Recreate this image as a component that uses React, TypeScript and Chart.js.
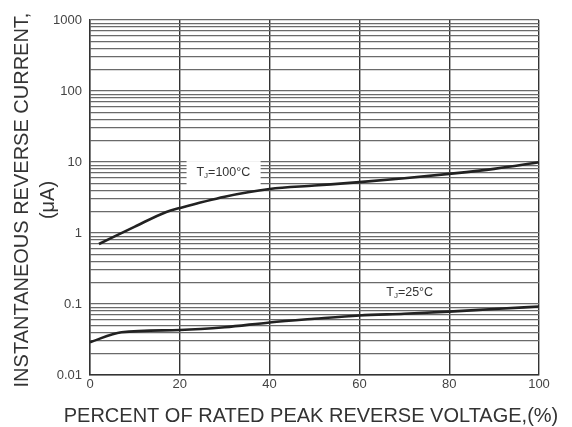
import React, { useEffect, useRef } from 'react';
import { Chart, registerables } from 'chart.js';

Chart.register(...registerables);

// ---- data ----
const hotX = [2, 10, 17, 20, 30, 40, 50, 60, 70, 80, 90, 100];
const hotY = [0.7, 1.23, 1.98, 2.25, 3.25, 4.17, 4.66, 5.2, 5.9, 6.8, 8.0, 9.9];
const coldX = [0, 7, 20, 30, 40, 50, 60, 70, 80, 90, 100];
const coldY = [0.029, 0.04, 0.043, 0.047, 0.055, 0.062, 0.069, 0.073, 0.078, 0.085, 0.092];
const xTicks = [0, 20, 40, 60, 80, 100];
const yDecades = [0.01, 0.1, 1, 10, 100, 1000];
const yTickLabels = ['0.01', '0.1', '1', '10', '100', '1000'];
const minorSteps = [1, 2, 3, 4, 5, 6, 7, 8, 9];
const xTitle = 'PERCENT OF RATED PEAK REVERSE VOLTAGE,(%)';
const yTitle = ['INSTANTANEOUS REVERSE CURRENT,', '(\u03BCA)'];
const hotLabel = { main: 'T', sub: 'J', rest: '=100\u00B0C', x: 29.7, y: 7.0 };
const coldLabel = { main: 'T', sub: 'J', rest: '=25\u00B0C', x: 71.2, y: 0.143 };
const hotBox = { x0: 21.5, x1: 38, y0: 10.3, y1: 4.72 };

const FONT = '"Liberation Sans", Arial, Helvetica, sans-serif';

function drawSubLabel(ctx: CanvasRenderingContext2D, cx: number, cy: number, lab: any) {
  ctx.save();
  ctx.fillStyle = '#333';
  ctx.textBaseline = 'middle';
  ctx.textAlign = 'left';
  const big = `12.5px ${FONT}`;
  const small = `8px ${FONT}`;
  ctx.font = big;
  const w1 = ctx.measureText(lab.main).width;
  const w3 = ctx.measureText(lab.rest).width;
  ctx.font = small;
  const w2 = ctx.measureText(lab.sub).width;
  const total = w1 + w2 + w3;
  let x = cx - total / 2;
  ctx.font = big;
  ctx.fillText(lab.main, x, cy);
  x += w1;
  ctx.font = small;
  ctx.fillText(lab.sub, x, cy + 3);
  x += w2;
  ctx.font = big;
  ctx.fillText(lab.rest, x, cy);
  ctx.restore();
}

const decorPlugin = {
  id: 'decor',
  beforeDatasetsDraw(chart: any) {
    const ctx = chart.ctx as CanvasRenderingContext2D;
    const xs = chart.scales.x;
    const ys = chart.scales.y;
    const bx0 = xs.getPixelForValue(hotBox.x0);
    const bx1 = xs.getPixelForValue(hotBox.x1);
    const by0 = ys.getPixelForValue(hotBox.y0);
    const by1 = ys.getPixelForValue(hotBox.y1);
    ctx.save();
    ctx.fillStyle = '#fff';
    ctx.fillRect(bx0, by0, bx1 - bx0, by1 - by0);
    ctx.restore();
    drawSubLabel(ctx, xs.getPixelForValue(hotLabel.x), ys.getPixelForValue(hotLabel.y), hotLabel);
    drawSubLabel(ctx, xs.getPixelForValue(coldLabel.x), ys.getPixelForValue(coldLabel.y), coldLabel);
  },
  afterDraw(chart: any) {
    const ctx = chart.ctx as CanvasRenderingContext2D;
    ctx.save();
    ctx.fillStyle = '#333';
    ctx.font = `20px ${FONT}`;
    ctx.textAlign = 'center';
    ctx.textBaseline = 'middle';
    ctx.fillText(xTitle, 311, 416);
    ctx.translate(22, 200);
    ctx.rotate(-Math.PI / 2);
    ctx.fillText(yTitle[0], 0, 0);
    ctx.fillText(yTitle[1], 0, 26);
    ctx.restore();
  },
};

function isDecade(v: number) {
  return yDecades.findIndex((d) => Math.abs(v - d) / d < 1e-6);
}

export default function App() {
  const ref = useRef<HTMLCanvasElement | null>(null);
  useEffect(() => {
    document.body.style.margin = '0';
    const canvas = ref.current!;
    const yTickVals: number[] = [];
    for (let i = 0; i < yDecades.length - 1; i++) {
      for (const m of minorSteps) yTickVals.push(yDecades[i] * m);
    }
    yTickVals.push(yDecades[yDecades.length - 1]);

    const chart = new Chart(canvas, {
      type: 'line',
      data: {
        datasets: [
          {
            data: hotX.map((x, i) => ({ x, y: hotY[i] })),
            borderColor: '#222',
            borderWidth: 2.6,
            pointRadius: 0,
            cubicInterpolationMode: 'monotone',
          },
          {
            data: coldX.map((x, i) => ({ x, y: coldY[i] })),
            borderColor: '#222',
            borderWidth: 2.6,
            pointRadius: 0,
            cubicInterpolationMode: 'monotone',
          },
        ],
      },
      options: {
        responsive: false,
        animation: false,
        devicePixelRatio: 1,
        layout: { padding: { top: 20, right: 33, left: 0, bottom: 0 } },
        plugins: { legend: { display: false }, tooltip: { enabled: false }, title: { display: false } },
        scales: {
          x: {
            type: 'linear',
            min: 0,
            max: 100,
            afterBuildTicks: (s: any) => {
              s.ticks = xTicks.map((v) => ({ value: v }));
            },
            afterFit: (s: any) => {
              s.height = 52;
            },
            ticks: {
              autoSkip: false,
              maxRotation: 0,
              padding: 2,
              color: '#444',
              font: { family: FONT, size: 13 },
              callback: (v: any) => String(v),
            },
            grid: { color: '#333', lineWidth: 1.4, drawTicks: false },
            border: { display: true, color: '#333', width: 1.4 },
          },
          y: {
            type: 'logarithmic',
            min: 0.01,
            max: 1000,
            afterBuildTicks: (s: any) => {
              s.ticks = yTickVals.map((v) => ({ value: v, major: isDecade(v) >= 0 }));
            },
            afterFit: (s: any) => {
              s.width = 90;
            },
            ticks: {
              autoSkip: false,
              padding: 8,
              color: '#444',
              font: { family: FONT, size: 13 },
              callback: (v: any) => {
                const k = isDecade(Number(v));
                return k >= 0 ? yTickLabels[k] : '';
              },
            },
            grid: {
              color: '#6a6a6a',
              lineWidth: 1.3,
              drawTicks: false,
            },
            border: { display: true, color: '#333', width: 1.4 },
          },
        },
      },
      plugins: [decorPlugin],
    } as any);
    return () => chart.destroy();
  }, []);
  return (
    <div style={{ width: 572, height: 427, background: '#fff' }}>
      <canvas ref={ref} width={572} height={427} />
    </div>
  );
}
